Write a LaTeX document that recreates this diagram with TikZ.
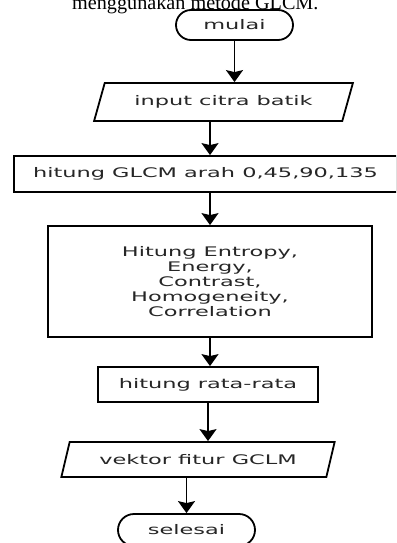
\documentclass[tikz,border=0pt]{standalone}
\usepackage{fontspec}
\setmainfont{DejaVu Sans}[FakeStretch=1.70]
\newfontfamily\capfont{Liberation Serif}
\usetikzlibrary{shapes.geometric,shapes.misc,arrows.meta}

\begin{document}
\begin{tikzpicture}[x=1pt,y=-1pt,
  boxtext/.style={font=\fontsize{13.2}{15}\selectfont, text=black!85, align=center},
  stepbox/.style={boxtext, draw, line width=1.8pt, rectangle, inner sep=0pt},
  iobox/.style={boxtext, draw, line width=1.8pt, trapezium, inner sep=0pt,
    trapezium left angle=58, trapezium right angle=122, trapezium stretches=true},
  termbox/.style={boxtext, draw, line width=1.8pt, rounded rectangle, inner sep=0pt},
  arr/.style={line width=1.8pt, -{Stealth[length=12pt,width=17pt,inset=2pt]}}]
\useasboundingbox (0,0) rectangle (396,543);
\fill[white] (0,0) rectangle (396,543);
\clip (0,0) rectangle (396,543);

% caption line running above the chart
\node[anchor=base west, inner sep=0pt, font=\capfont\fontsize{20.2}{24}\selectfont]
  (cap) at (72,9.5) {menggunakan metode GLCM.};

% flowchart steps
\node[termbox, minimum width=117pt, minimum height=30pt] (mulai) at (234.5,25) {mulai};
\node[iobox, minimum width=259pt, minimum height=38pt] (input) at (223.5,102) {input citra batik};
\node[stepbox, minimum width=383pt, minimum height=36pt] (glcm) at (205.5,174) {hitung GLCM arah 0,45,90,135};
\node[stepbox, minimum width=324pt, minimum height=111pt] (fitur) at (210,281.5)
  {Hitung Entropy,\\Energy,\\Contrast,\\Homogeneity,\\Correlation};
\node[stepbox, minimum width=220pt, minimum height=35pt] (rata) at (208,384.5) {hitung rata-rata};
\node[iobox, minimum width=274pt, minimum height=35pt] (vektor) at (198,459.5) {vektor fitur GCLM};
\node[termbox, minimum width=137pt, minimum height=32pt] (selesai) at (186.5,530) {selesai};

% connectors
\draw[arr] (mulai.south) -- (mulai.south |- input.north);
\draw[arr] (fitur.north |- input.south) -- (fitur.north |- glcm.north);
\draw[arr] (fitur.north |- glcm.south) -- (fitur.north);
\draw[arr] (fitur.south) -- (fitur.south |- rata.north);
\draw[arr] (rata.south) -- (rata.south |- vektor.north);
\draw[arr] (selesai.north |- vektor.south) -- (selesai.north);
\end{tikzpicture}
\end{document}
